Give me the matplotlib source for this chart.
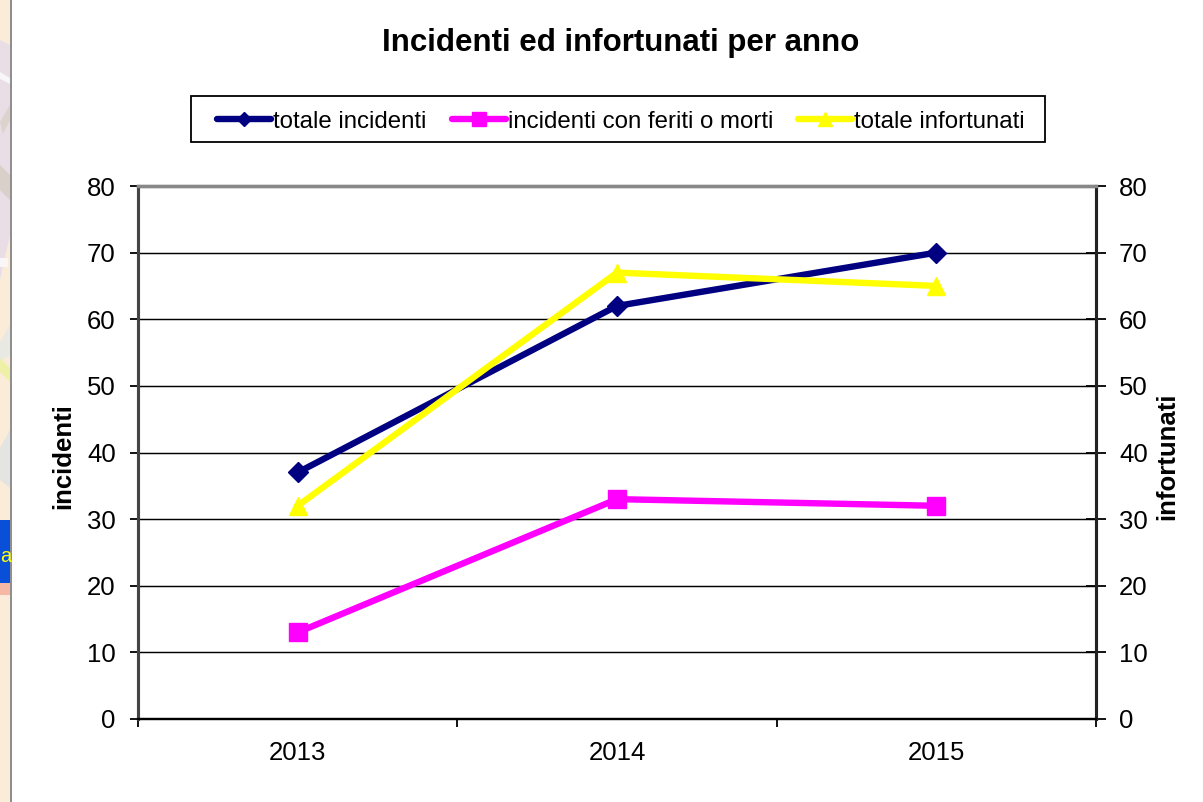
#!/usr/bin/env python3
"""Incidenti ed infortunati per anno: three yearly series on twin y axes."""

import matplotlib
matplotlib.use("Agg")
import matplotlib.pyplot as plt
from matplotlib.patches import Polygon, Rectangle

YEARS = ["2013", "2014", "2015"]
TOTALE_INCIDENTI = [37, 62, 70]
INCIDENTI_FERITI = [13, 33, 32]
TOTALE_INFORTUNATI = [32, 67, 65]
Y_TICKS = [0, 10, 20, 30, 40, 50, 60, 70, 80]

W, H = 1203, 802


def box(x0, y0, x1, y1, color, **kw):
    # pixel box on the figure, y measured from the top like in the screenshot
    return Rectangle((x0 / W, 1 - y1 / H), (x1 - x0) / W, (y1 - y0) / H,
                     transform=fig.transFigure, color=color, lw=0, **kw)


def shape(points, color):
    pts = [(x / W, 1 - y / H) for x, y in points]
    return Polygon(pts, closed=True, transform=fig.transFigure, color=color, lw=0)


plt.rcParams["font.family"] = ["Liberation Sans", "DejaVu Sans"]
fig = plt.figure(figsize=(W / 100, H / 100), dpi=100, facecolor="white")

# Strip of the slide behind the chart on the far left
fig.patches.extend([
    box(0, 0, 10, 802, "#fbecd9"),
    shape([(0, 40), (10, 45), (10, 235), (0, 280)], "#e9dde6"),
    shape([(0, 72), (10, 78), (10, 84), (0, 79)], "#f8f6f6"),
    shape([(0, 122), (10, 105), (10, 120), (3, 134)], "#ddd3cd"),
    shape([(0, 165), (10, 175), (10, 200), (0, 190)], "#d9d0ca"),
    box(0, 258, 8, 267, "#f8f6f6"),
    shape([(0, 342), (10, 325), (10, 355), (0, 362)], "#e9e9e3"),
    shape([(0, 358), (10, 368), (10, 382), (0, 372)], "#eef0a8"),
    shape([(0, 448), (10, 430), (10, 488), (0, 480)], "#e4e4e2"),
    box(0, 520, 10, 583, "#0a4fd8"),
    box(0, 583, 10, 595, "#f6b7a4"),
    box(10, 0, 12, 802, "#8f8f8f"),
])
fig.text(0.5 / W, 1 - 562 / H, "a", ha="left", va="baseline",
         color="#ffff00", fontsize=14.5)

ax = fig.add_axes([138 / W, 1 - 719 / H, (1096 - 138) / W, (719 - 186) / H])
ax2 = ax.twinx()

xs = list(range(len(YEARS)))
ax.plot(xs, TOTALE_INCIDENTI, color="#000080", lw=4.6, marker="D", ms=10,
        label="totale incidenti", zorder=3)
ax.plot(xs, INCIDENTI_FERITI, color="#ff00ff", lw=4.6, marker="s", ms=13,
        label="incidenti con feriti o morti", zorder=3)
ax.plot(xs, TOTALE_INFORTUNATI, color="#ffff00", lw=4.6, marker="^", ms=13.5,
        label="totale infortunati", zorder=4)

ax.set_xlim(-0.5, 2.5)
ax.set_ylim(0, 80)
ax2.set_ylim(0, 80)
ax.set_yticks(Y_TICKS)
ax2.set_yticks(Y_TICKS)
ax.set_axisbelow(True)
ax.grid(axis="y", color="black", lw=1.05)

ax.set_xticks(xs)
ax.set_xticklabels(YEARS)
ax.set_xticks([-0.5, 0.5, 1.5, 2.5], minor=True)
ax.tick_params(axis="x", which="major", length=0, pad=15.5, labelsize=18.5)
ax.tick_params(axis="x", which="minor", direction="out", length=6, width=1.3)
ax.tick_params(axis="y", direction="out", length=6, width=1.3, pad=10, labelsize=18.5)
ax2.tick_params(axis="y", direction="inout", length=15, width=1.3, pad=9, labelsize=18.5)

for a in (ax, ax2):
    a.spines["top"].set_color("#888888")
    a.spines["top"].set_linewidth(2.4)
    a.spines["left"].set_color("#444444")
    a.spines["left"].set_linewidth(2.2)
    a.spines["right"].set_color("#222222")
    a.spines["right"].set_linewidth(2.2)
    a.spines["bottom"].set_linewidth(1.6)

fig.text(621 / W, 1 - 43 / H, "Incidenti ed infortunati per anno", ha="center",
         va="center", fontsize=22.5, fontweight="bold")
fig.text(63 / W, 1 - 456 / H, "incidenti", rotation=90, ha="center", va="center",
         fontsize=18.5, fontweight="bold")
fig.text(1167 / W, 1 - 456 / H, "infortunati", rotation=90, ha="center", va="center",
         fontsize=18.5, fontweight="bold")

# Legend box is drawn on its own so its size can follow the reference exactly
fig.patches.append(box(191, 96, 1045, 142, "white", ec="black"))
fig.patches[-1].set_linewidth(1.3)
leg = fig.legend(*ax.get_legend_handles_labels(), ncol=3, loc="center left",
                 bbox_to_anchor=(217 / W, 1 - 121.5 / H), fontsize=17.3,
                 frameon=False, handlelength=2.25, handletextpad=0.08,
                 columnspacing=1.05, borderpad=0, borderaxespad=0,
                 markerscale=0.75)
for line in leg.get_lines():
    line.set_solid_capstyle("round")

fig.savefig("out.png", dpi=100)
